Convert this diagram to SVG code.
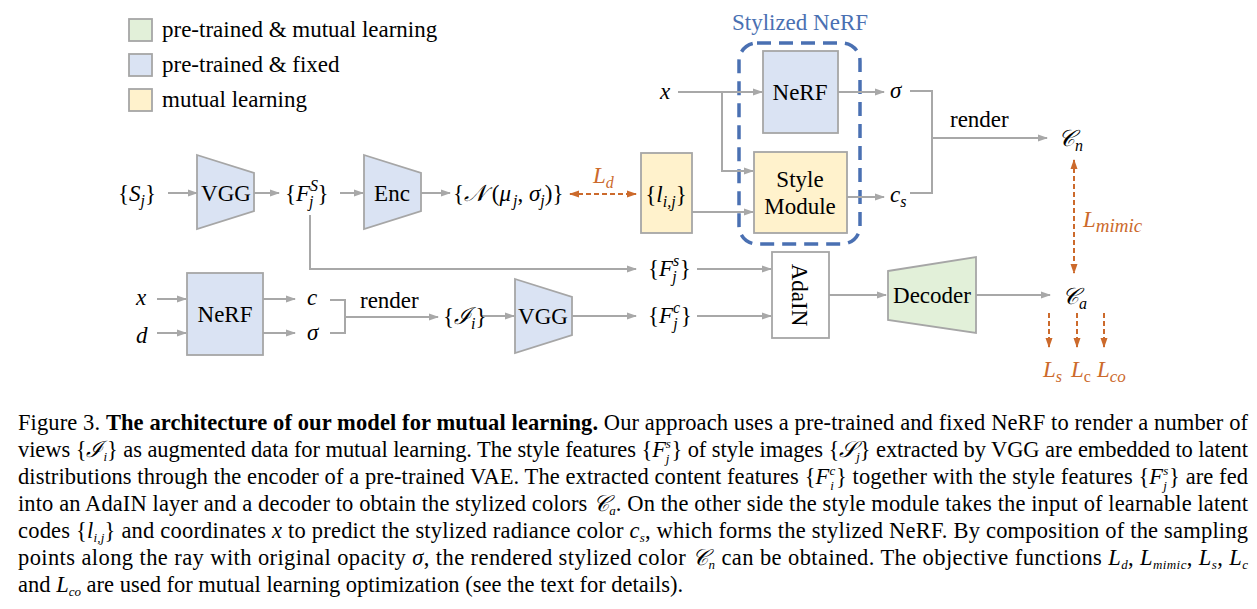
<svg xmlns="http://www.w3.org/2000/svg" width="1257" height="609" viewBox="0 0 1257 609">
<style>
text{font-family:"Liberation Serif","DejaVu Serif",serif;font-size:23px;fill:#000}
.m{font-style:italic}
.sm{font-size:16px}
.xs{font-size:13px}
.or{fill:#cc6a2c}
.bl{fill:#4a70b2}
.box{stroke:#a6a6a6;stroke-width:1.8}
.fb{fill:#dae3f3}.fy{fill:#fff2cc}.fg{fill:#e2f0d9}.fw{fill:#fff}
.ln{fill:none;stroke:#a8a8a8;stroke-width:2}
.ar{marker-end:url(#ah)}
.od{fill:none;stroke:#cc6a2c;stroke-width:2;stroke-dasharray:5 3}
.cap{font-size:22.5px}
</style>
<defs>
<marker id="ah" markerWidth="10" markerHeight="8" refX="9" refY="4" orient="auto" markerUnits="userSpaceOnUse"><path d="M0,0.5 L10,4 L0,7.5 z" fill="#a8a8a8"/></marker>
<marker id="oh" markerWidth="10" markerHeight="8" refX="9" refY="4" orient="auto-start-reverse" markerUnits="userSpaceOnUse"><path d="M0,0.5 L10,4 L0,7.5 z" fill="#cc6a2c"/></marker>
</defs>

<g id="legend">
<rect x="129" y="19" width="23" height="22" class="box fg"/>
<rect x="129" y="54" width="23" height="22" class="box fb"/>
<rect x="129" y="89" width="23" height="22" class="box fy"/>
<text x="162" y="37">pre-trained &amp; mutual learning</text>
<text x="162" y="72">pre-trained &amp; fixed</text>
<text x="162" y="107">mutual learning</text>
</g>

<g id="stylized-nerf">
<rect x="739" y="43" width="121" height="201" rx="18" fill="none" stroke="#4a70b2" stroke-width="3.5" stroke-dasharray="14 8"/>
<text x="800" y="30" text-anchor="middle" class="bl">Stylized NeRF</text>
</g>

<g id="connectors">
<path class="ln ar" d="M168,193 H197"/>
<path class="ln ar" d="M254,193 H279"/>
<path class="ln ar" d="M340,193 H363"/>
<path class="ln ar" d="M421,193 H450"/>
<path class="od" d="M570,194 H636" marker-start="url(#oh)" marker-end="url(#oh)"/>
<path class="ln ar" d="M310,215 V269 H636"/>
<path class="ln ar" d="M678,92 H762"/>
<path class="ln ar" d="M722,92 V171 H753"/>
<path class="ln ar" d="M692,212 H753"/>
<path class="ln ar" d="M838,92 H884"/>
<path class="ln ar" d="M847,197 H884"/>
<path class="ln" d="M910,91 H932 V193 H910"/>
<path class="ln ar" d="M932,138 H1047"/>
<path class="od" d="M1074,160 V273" marker-start="url(#oh)" marker-end="url(#oh)"/>
<path class="ln ar" d="M697,269 H771"/>
<path class="ln ar" d="M697,316 H771"/>
<path class="ln ar" d="M829,295 H886"/>
<path class="ln ar" d="M976,295 H1050"/>
<path class="od" d="M1049,313 V347" marker-end="url(#oh)"/>
<path class="od" d="M1077,313 V347" marker-end="url(#oh)"/>
<path class="od" d="M1104,313 V347" marker-end="url(#oh)"/>
<path class="ln ar" d="M157,299 H186"/>
<path class="ln ar" d="M157,333 H186"/>
<path class="ln ar" d="M263,299 H295"/>
<path class="ln ar" d="M263,333 H295"/>
<path class="ln" d="M330,300 H345 V333 H330"/>
<path class="ln ar" d="M345,317 H438"/>
<path class="ln ar" d="M482,316 H514"/>
<path class="ln ar" d="M572,316 H636"/>
</g>

<g id="Sj"><text x="118" y="201">{<tspan class="m">S</tspan><tspan class="m sm" dy="5">j</tspan><tspan dy="-5">}</tspan></text></g>
<g id="vgg1"><path d="M197,155 L254,173 L254,211 L197,229 Z" class="box fb"/><text x="226" y="201" text-anchor="middle">VGG</text></g>
<g id="FjS1"><text x="285" y="201">{<tspan class="m">F</tspan><tspan class="m sm" dy="-10">S</tspan><tspan class="m sm" dx="-9" dy="16">j</tspan><tspan dx="4" dy="-6">}</tspan></text></g>
<g id="enc"><path d="M364,155 L421,173 L421,211 L364,229 Z" class="box fb"/><text x="392" y="201" text-anchor="middle">Enc</text></g>
<g id="Ndist"><text x="453" y="201">{<tspan class="m">𝒩</tspan> (<tspan class="m">μ</tspan><tspan class="m sm" dx="2" dy="5">j</tspan><tspan dy="-5">, </tspan><tspan class="m">σ</tspan><tspan class="m sm" dy="5">j</tspan><tspan dy="-5">)}</tspan></text></g>
<g id="Ld"><text x="593" y="183" class="or m">L<tspan class="sm" dy="5">d</tspan></text></g>
<g id="lij"><rect x="641" y="153" width="51" height="80" class="box fy"/><text x="666" y="202" text-anchor="middle">{<tspan class="m">l</tspan><tspan class="m sm" dy="5">i,j</tspan><tspan dy="-5">}</tspan></text></g>
<g id="x-top"><text x="660" y="99" class="m">x</text></g>
<g id="nerf-top"><rect x="763" y="51" width="75" height="82" class="box fb"/><text x="800" y="100" text-anchor="middle">NeRF</text></g>
<g id="style-module"><rect x="754" y="152" width="93" height="81" class="box fy"/><text x="800" y="187" text-anchor="middle">Style</text><text x="800" y="214" text-anchor="middle">Module</text></g>
<g id="sigma-top"><text x="890" y="98" class="m">σ</text></g>
<g id="cs"><text x="890" y="202" class="m">c<tspan class="sm" dy="5">s</tspan></text></g>
<g id="render-top"><text x="950" y="127">render</text></g>
<g id="Cn"><text x="1058" y="146" class="m">𝒞<tspan class="sm" dy="5">n</tspan></text></g>
<g id="Lmimic"><text x="1083" y="227" class="or m">L<tspan font-size="19" dy="5">mimic</tspan></text></g>
<g id="FjS2"><text x="648" y="276">{<tspan class="m">F</tspan><tspan class="m sm" dy="-10">s</tspan><tspan class="m sm" dx="-7" dy="16">j</tspan><tspan dx="3" dy="-6">}</tspan></text></g>
<g id="Fjc"><text x="648" y="323">{<tspan class="m">F</tspan><tspan class="m sm" dy="-10">c</tspan><tspan class="m sm" dx="-7" dy="16">j</tspan><tspan dx="3" dy="-6">}</tspan></text></g>
<g id="adain"><rect x="772" y="252" width="57" height="86" class="box fw"/><text transform="translate(800,295) rotate(90)" x="0" y="8" text-anchor="middle">AdaIN</text></g>
<g id="decoder"><path d="M888,271 L976,257 L976,333 L888,320 Z" class="box fg"/><text x="932" y="303" text-anchor="middle">Decoder</text></g>
<g id="Ca"><text x="1062" y="304" class="m">𝒞<tspan class="sm" dy="5">a</tspan></text></g>
<g id="losses"><text x="1043" y="377" class="or m">L<tspan class="sm" dy="5">s</tspan></text><text x="1071" y="377" class="or m">L<tspan class="sm" dy="5" font-style="normal">c</tspan></text><text x="1097" y="377" class="or m">L<tspan font-size="17" dy="5">co</tspan></text></g>
<g id="x-bot"><text x="136" y="305" class="m">x</text></g>
<g id="d-bot"><text x="136" y="343" class="m">d</text></g>
<g id="nerf-bot"><rect x="187" y="273" width="76" height="82" class="box fb"/><text x="225" y="322" text-anchor="middle">NeRF</text></g>
<g id="c-bot"><text x="307" y="305" class="m">c</text></g>
<g id="sigma-bot"><text x="307" y="340" class="m">σ</text></g>
<g id="render-bot"><text x="360" y="308">render</text></g>
<g id="Ii"><text x="443" y="324">{<tspan class="m">ℐ</tspan><tspan class="m sm" dy="5">i</tspan><tspan dy="-5">}</tspan></text></g>
<g id="vgg2"><path d="M515,279 L572,297 L572,335 L515,353 Z" class="box fb"/><text x="543" y="324" text-anchor="middle">VGG</text></g>

<g id="caption">
<text class="cap" x="18" y="430" textLength="1230" lengthAdjust="spacing">Figure 3. <tspan font-weight="bold">The architecture of our model for mutual learning.</tspan> Our approach uses a pre-trained and fixed NeRF to render a number of</text>
<text class="cap" x="18" y="457" textLength="1230" lengthAdjust="spacing">views {<tspan class="m">ℐ</tspan><tspan class="m xs" dy="4">i</tspan><tspan dy="-4">} as augmented data for mutual learning. The style features {</tspan><tspan class="m">F</tspan><tspan class="m xs" dy="-9">s</tspan><tspan class="m xs" dx="-5" dy="15">j</tspan><tspan dx="2" dy="-6">} of style images {</tspan><tspan class="m">𝒮</tspan><tspan class="m xs" dy="4">j</tspan><tspan dy="-4">} extracted by VGG are embedded to latent</tspan></text>
<text class="cap" x="18" y="484" textLength="1230" lengthAdjust="spacing">distributions through the encoder of a pre-trained VAE. The extracted content features {<tspan class="m">F</tspan><tspan class="m xs" dy="-9">c</tspan><tspan class="m xs" dx="-5" dy="15">i</tspan><tspan dx="2" dy="-6">} together with the style features {</tspan><tspan class="m">F</tspan><tspan class="m xs" dy="-9">s</tspan><tspan class="m xs" dx="-5" dy="15">j</tspan><tspan dx="2" dy="-6">} are fed</tspan></text>
<text class="cap" x="18" y="511" textLength="1230" lengthAdjust="spacing">into an AdaIN layer and a decoder to obtain the stylized colors <tspan class="m">𝒞</tspan><tspan class="m xs" dy="4">a</tspan><tspan dy="-4">. On the other side the style module takes the input of learnable latent</tspan></text>
<text class="cap" x="18" y="538" textLength="1230" lengthAdjust="spacing">codes {<tspan class="m">l</tspan><tspan class="m xs" dy="4">i,j</tspan><tspan dy="-4">} and coordinates </tspan><tspan class="m">x</tspan> to predict the stylized radiance color <tspan class="m">c</tspan><tspan class="m xs" dy="4">s</tspan><tspan dy="-4">, which forms the stylized NeRF. By composition of the sampling</tspan></text>
<text class="cap" x="18" y="565" textLength="1230" lengthAdjust="spacing">points along the ray with original opacity <tspan class="m">σ</tspan>, the rendered stylized color <tspan class="m">𝒞</tspan><tspan class="m xs" dy="4">n</tspan><tspan dy="-4"> can be obtained. The objective functions </tspan><tspan class="m">L</tspan><tspan class="m xs" dy="4">d</tspan><tspan dy="-4">, </tspan><tspan class="m">L</tspan><tspan class="m xs" dy="4">mimic</tspan><tspan dy="-4">, </tspan><tspan class="m">L</tspan><tspan class="m xs" dy="4">s</tspan><tspan dy="-4">, </tspan><tspan class="m">L</tspan><tspan class="m xs" dy="4">c</tspan></text>
<text class="cap" x="18" y="592">and <tspan class="m">L</tspan><tspan class="m xs" dy="4">co</tspan><tspan dy="-4"> are used for mutual learning optimization (see the text for details).</tspan></text>
</g>
</svg>
